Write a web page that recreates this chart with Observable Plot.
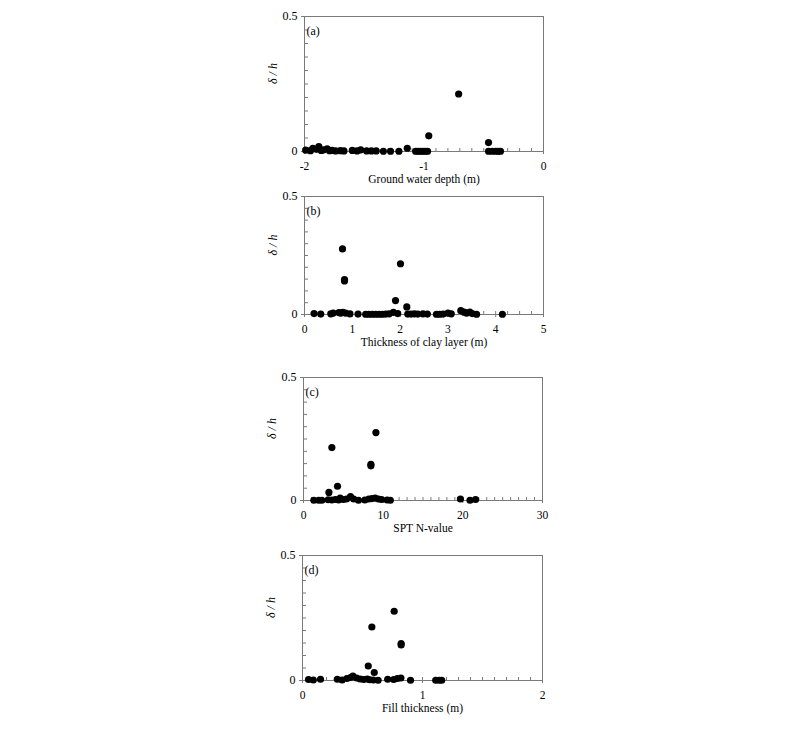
<!DOCTYPE html>
<html>
<head>
<meta charset="utf-8">
<script src="https://cdn.jsdelivr.net/npm/d3@7"></script>
<script src="https://cdn.jsdelivr.net/npm/@observablehq/plot@0.6"></script>
<style>
  html, body { margin: 0; padding: 0; background: #fff; }
  #wrap { position: relative; width: 800px; height: 729px; }
  .panel { position: absolute; left: 0; }
</style>
</head>
<body>
<div id="wrap"></div>
<script>
// ---------------- Data ----------------
// Panel (a): Ground water depth (m) vs δ/h
const gwDepth = [-1.99,-1.95,-1.93,-1.90,-1.88,-1.86,-1.84,-1.81,-1.79,-1.77,-1.74,-1.70,-1.67,-1.60,-1.56,-1.53,-1.48,-1.44,-1.40,-1.34,-1.28,-1.21,-1.14,-1.07,-1.05,-1.03,-1.01,-0.99,-0.97,-0.96,-0.71,-0.46,-0.46,-0.43,-0.40,-0.38,-0.36];
const gwDelta = [0.005,0.003,0.012,0.008,0.018,0.004,0.006,0.010,0.003,0.004,0.002,0.003,0.002,0.004,0.002,0.006,0.002,0.002,0.002,0.001,0.001,0.001,0.012,0.001,0.001,0.001,0.001,0.001,0.001,0.058,0.213,0.033,0.001,0.001,0.001,0.001,0.001];

// Panel (b): Thickness of clay layer (m)
const clayThk = [0.20,0.34,0.55,0.60,0.72,0.76,0.80,0.795,0.837,0.837,0.86,0.95,1.12,1.28,1.35,1.42,1.49,1.56,1.63,1.70,1.77,1.86,1.904,1.95,2.008,2.14,2.16,2.23,2.30,2.37,2.48,2.57,2.76,2.83,2.90,3.00,3.07,3.27,3.34,3.39,3.46,3.51,3.60,4.14];
const clayDelta = [0.004,0.002,0.003,0.006,0.008,0.006,0.009,0.278,0.148,0.142,0.006,0.003,0.002,0.001,0.001,0.001,0.001,0.001,0.001,0.002,0.003,0.009,0.059,0.004,0.215,0.032,0.002,0.002,0.003,0.002,0.003,0.002,0.001,0.001,0.002,0.006,0.003,0.016,0.010,0.006,0.010,0.004,0.001,0.001];

// Panel (c): SPT N-value
const sptN = [1.3,1.9,2.3,3.1,3.19,3.56,3.56,4.0,4.27,4.4,4.6,5.0,5.4,5.9,6.3,6.9,7.7,8.2,8.46,8.46,8.6,9.0,9.09,9.4,9.8,10.5,10.9,19.7,20.9,21.6];
const sptDelta = [0.001,0.001,0.001,0.003,0.033,0.215,0.002,0.004,0.058,0.002,0.010,0.004,0.006,0.016,0.006,0.001,0.002,0.006,0.147,0.141,0.008,0.010,0.276,0.006,0.004,0.002,0.001,0.006,0.001,0.004];

// Panel (d): Fill thickness (m)
const fillThk = [0.05,0.09,0.15,0.29,0.33,0.37,0.40,0.42,0.45,0.48,0.51,0.54,0.548,0.56,0.578,0.59,0.598,0.63,0.71,0.76,0.764,0.79,0.82,0.822,0.822,0.90,1.11,1.14,1.16];
const fillDelta = [0.004,0.002,0.005,0.005,0.002,0.008,0.012,0.018,0.010,0.006,0.004,0.006,0.058,0.003,0.214,0.002,0.032,0.001,0.005,0.004,0.277,0.008,0.010,0.148,0.142,0.001,0.001,0.001,0.001];

// Axis titles & tick values
const panelTags = ["(a)","(b)","(c)","(d)"];
const xTitles = ["Ground water depth (m)","Thickness of clay layer (m)","SPT N-value","Fill thickness (m)"];
const xDomains = [[-2,0],[0,5],[0,30],[0,2]];
const xMajorTicks = [[-2,-1,0],[0,1,2,3,4,5],[0,10,20,30],[0,1,2]];
const xMinorTicks = [
  [-1.9,-1.8,-1.7,-1.6,-1.5,-1.4,-1.3,-1.2,-1.1,-1,-0.9,-0.8,-0.7,-0.6,-0.5,-0.4,-0.3,-0.2,-0.1],
  [0.25,0.5,0.75,1,1.25,1.5,1.75,2,2.25,2.5,2.75,3,3.25,3.5,3.75,4,4.25,4.5,4.75],
  [1,2,3,4,5,6,7,8,9,10,11,12,13,14,15,16,17,18,19,20,21,22,23,24,25,26,27,28,29],
  [0.1,0.2,0.3,0.4,0.5,0.6,0.7,0.8,0.9,1,1.1,1.2,1.3,1.4,1.5,1.6,1.7,1.8,1.9]
];
const yMajorTicks = [0, 0.5];
const yMinorTicks = [0.05,0.1,0.15,0.2,0.25,0.3,0.35,0.4,0.45];
const yTitle = "δ / h";

const xsAll = [gwDepth, clayThk, sptN, fillThk];
const ysAll = [gwDelta, clayDelta, sptDelta, fillDelta];

// ---------------- Layout (pixel frames of each plot area) ----------------
const frames = [
  {left: 304, right: 543, top: 16,  bottom: 151},
  {left: 304, right: 543, top: 196, bottom: 314},
  {left: 303, right: 542, top: 377, bottom: 500},
  {left: 302, right: 542, top: 555, bottom: 680}
];
const mTop = 12, mBottom = 46;
const gray = "#7a7a7a";
const fs = 11.5;
const wrap = document.getElementById("wrap");
const fmt = d => String(d);

for (let i = 0; i < 4; i++) {
  const f = frames[i];
  const pw = f.right - f.left, ph = f.bottom - f.top;
  const data = xsAll[i].map((x, j) => ({x, y: ysAll[i][j]}));
  const chart = Plot.plot({
    width: 800,
    height: ph + mTop + mBottom,
    marginLeft: f.left,
    marginRight: 800 - f.right,
    marginTop: mTop,
    marginBottom: mBottom,
    style: {fontFamily: "'Liberation Serif', 'Times New Roman', serif", fontSize: fs + "px", color: "#000", background: "transparent"},
    x: {domain: xDomains[i]},
    y: {domain: [0, 0.5]},
    marks: [
      Plot.frame({stroke: gray, strokeWidth: 1}),
      // inward minor ticks on x axis
      Plot.tickX(xMinorTicks[i], {x: d => d, insetTop: ph - 3, stroke: gray}),
      // inward minor ticks on y axis
      Plot.tickY(yMinorTicks, {y: d => d, insetRight: pw - 4, stroke: gray}),
      Plot.axisX(xMajorTicks[i], {tickSize: 3, stroke: gray, tickPadding: 7, tickFormat: fmt, label: null, fill: "#000", fontSize: fs}),
      Plot.axisY(yMajorTicks, {tickSize: 3, stroke: gray, tickPadding: 4, tickFormat: fmt, label: null, fill: "#000", fontSize: 12}),
      Plot.text([xTitles[i]], {frameAnchor: "bottom", dy: 31, fontSize: 11.5, fill: "#000"}),
      Plot.text([yTitle], {frameAnchor: "left", dx: -31, rotate: -90, fontStyle: "italic", fontSize: 12, fill: "#000"}),
      Plot.text([panelTags[i]], {frameAnchor: "top-left", dx: 2, dy: 10, textAnchor: "start", fontSize: 12, fill: "#000"}),
      Plot.dot(data, {x: "x", y: "y", r: 3.6, fill: "#000", stroke: "none"})
    ]
  });
  chart.classList.add("panel");
  chart.style.top = (f.top - mTop) + "px";
  wrap.appendChild(chart);
}
</script>
</body>
</html>
